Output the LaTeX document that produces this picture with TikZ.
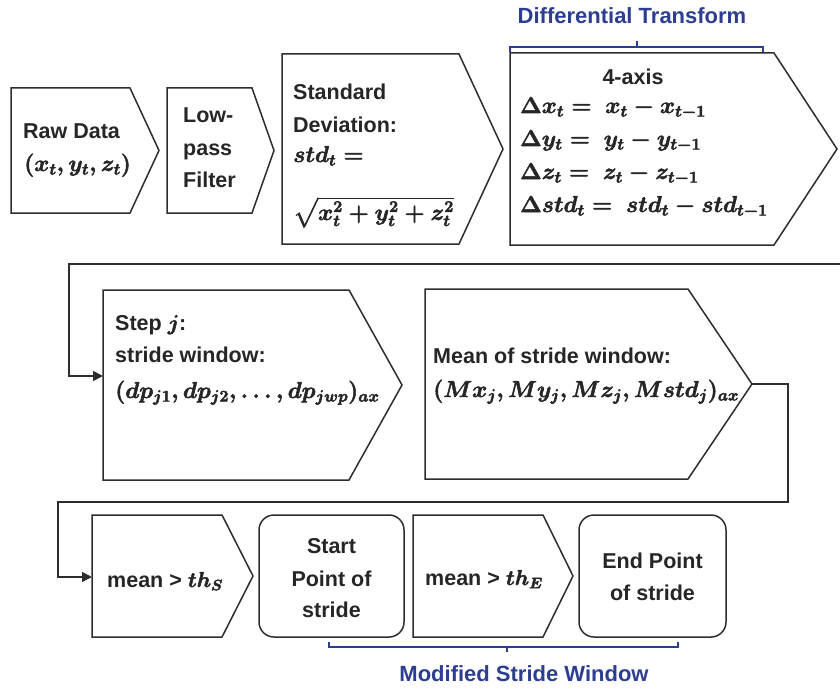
\RequirePackage{fix-cm}
\documentclass[tikz,border=0pt]{standalone}
\usepackage{amsmath}
\usepackage[no-math]{fontspec}
\setmainfont{Liberation Sans}
\usetikzlibrary{arrows.meta,calc}
\definecolor{linecol}{RGB}{45,45,45}
\definecolor{blu}{RGB}{45,62,145}
\newcommand\thkm[1]{\special{pdf:literal direct 2 Tr 0.5 w}#1\special{pdf:literal direct 0 Tr}}
\newcommand\pbox[6]{% name, x1, y1, xr, y2, xt
  \node[inner sep=0, outer sep=0, minimum width={(#4-#2)*1pt}, minimum height={(#5-#3)*1pt}] (#1) at ({(#2+#4)/2},{(#3+#5)/2}) {};
  \coordinate (#1-tip) at (#6,{(#3+#5)/2});
  \draw[boxline] (#1.north west) -- (#1.north east) -- (#1-tip) -- (#1.south east) -- (#1.south west) -- cycle;
}
\begin{document}
\begin{tikzpicture}[x=1pt,y=-1pt,
  boxline/.style={draw=linecol, line width=1.5pt, line join=miter},
  rbox/.style={draw=linecol, line width=1.5pt, rounded corners=15pt, inner sep=0},
  txt/.style={font=\fontsize{21.5}{32}\selectfont\bfseries\boldmath, text=black!85, anchor=base west, inner sep=0},
  mth/.style={font=\fontsize{23}{30}\selectfont\boldmath, text=black!85, anchor=base west, inner sep=0},
  conn/.style={draw=linecol, line width=1.5pt},
  arr/.style={conn, -{Triangle[length=10pt,width=10pt]}},
  brk/.style={draw=blu, line width=1.2pt},
  btxt/.style={font=\fontsize{22}{26}\selectfont\bfseries, text=blu, anchor=base, inner sep=0}]
\useasboundingbox (0,0) rectangle (840,690);

% Row 1
\pbox{raw}{11}{88}{130}{213}{159}
\node[txt] (rawt) at (23,139) {Raw Data};
\node[mth] (rawm) at (24,171) {\thkm{$(x_t,y_t,z_t)$}};

\pbox{lp}{167}{88}{252}{213}{274}
\node[txt] (lp1) at (183,123) {Low-};
\node[txt] (lp2) at (183,155) {pass};
\node[txt] (lp3) at (183,187) {Filter};

\pbox{sd}{282}{54}{459}{244}{503}
\node[txt] (sd1) at (293,100) {Standard};
\node[txt] (sd2) at (293,132) {Deviation:};
\node[mth] (sd3) at (293,162) {\thkm{$std_t=$}};
\node[mth] (sd4) at (293,220) {\thkm{$\sqrt{x_t^2+y_t^2+z_t^2}$}};

\pbox{dt}{510}{53}{774}{245}{837}
\node[txt, anchor=base] (dt0) at (633,85) {4-axis};
\node[mth] (dt1) at (520,113) {\thkm{$\Delta x_t=\ x_t-x_{t-1}$}};
\node[mth] (dt2) at (520,146) {\thkm{$\Delta y_t=\ y_t-y_{t-1}$}};
\node[mth] (dt3) at (520,179) {\thkm{$\Delta z_t=\ z_t-z_{t-1}$}};
\node[mth] (dt4) at (520,212) {\thkm{$\Delta std_t=\ std_t-std_{t-1}$}};

\draw[brk] (510,52) -- (510,47) -- (763,47) -- (763,52);
\coordinate (dtb) at (637,47);
\coordinate (dtbt) at (637,41);
\draw[brk] (dtb) -- (dtbt);
\node[btxt] (dtl) at (632,24) {Differential Transform};

% Row 2
\pbox{st}{103}{290}{349}{480}{402}
\node[txt] (st1) at (115,330) {Step \thkm{$j$}:};
\node[txt] (st2) at (115,362) {stride window:};
\node[mth] (st3) at (115,398) {\thkm{$(dp_{j1},dp_{j2},\dots,dp_{jwp})_{ax}$}};

\pbox{mn}{425}{289}{688}{479}{752}
\node[txt] (mn1) at (433,363) {Mean of stride window:};
\node[mth] (mn2) at (433,397) {\thkm{$(Mx_j,My_j,Mz_j,Mstd_j)_{ax}$}};

% Row 3
\pbox{ths}{92}{515}{222}{637}{253}
\node[txt] (ths1) at (107,587) {mean > \thkm{$th_S$}};

\node[rbox, minimum width=145pt, minimum height=122pt] (sp) at (331.5,576) {};
\node[txt, anchor=base] (sp1) at (331.5,553) {Start};
\node[txt, anchor=base] (sp2) at (331.5,586) {Point of};
\node[txt, anchor=base] (sp3) at (331.5,617) {stride};

\pbox{the}{413}{515}{543}{637}{573}
\node[txt] (the1) at (425,585) {mean > \thkm{$th_E$}};

\node[rbox, minimum width=147pt, minimum height=122pt] (ep) at (652.5,576) {};
\node[txt, anchor=base] (ep1) at (652.5,568) {End Point};
\node[txt, anchor=base] (ep2) at (652.5,600) {of stride};

\draw[brk] (329,642) -- (329,647) -- (678,647) -- (678,642);
\coordinate (msb) at (507,647);
\coordinate (msbt) at (507,652);
\draw[brk] (msb) -- (msbt);
\node[btxt] (msl) at (524,681) {Modified Stride Window};

% connectors
\coordinate (cin) at (840,264);
\draw[arr] (cin) -- (69,264) -- (69,376) -- (st.west |- 0,376);
\draw[arr] (mn-tip) -- (788,384) -- (788,502) -- (58,502) -- (58,577) -- (ths.west |- 0,577);
\end{tikzpicture}
\end{document}
